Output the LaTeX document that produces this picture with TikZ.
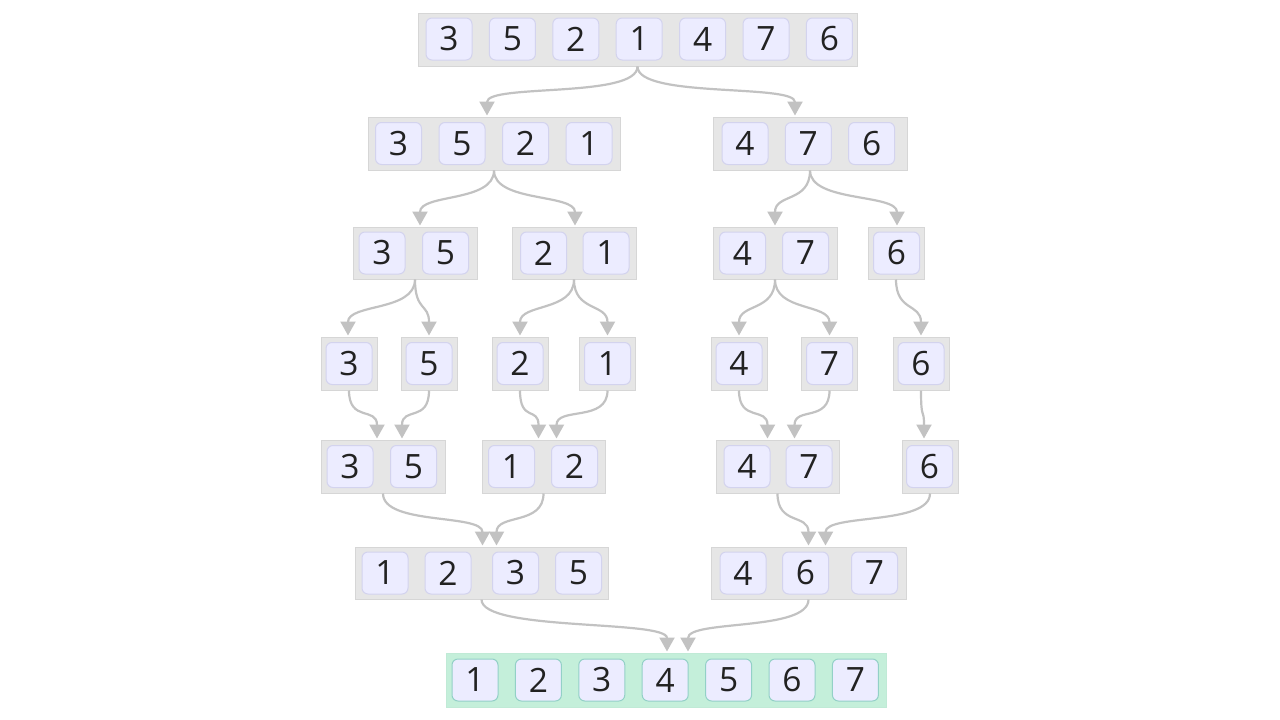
\documentclass[tikz,border=0pt]{standalone}
\usepackage{fontspec}
\setmainfont{Open Sans}
\usetikzlibrary{arrows.meta,calc}
\definecolor{boxfill}{HTML}{E6E6E6}
\definecolor{boxline}{HTML}{D6D6D6}
\definecolor{cellfill}{HTML}{ECECFF}
\definecolor{cellline}{HTML}{D3D3EE}
\definecolor{greenfill}{HTML}{C4EFDA}
\definecolor{greencell}{HTML}{93D0C7}
\definecolor{edgecol}{HTML}{C2C2C2}
\definecolor{txt}{HTML}{222222}
\newcommand\conn[3]{\draw[edge] (#1.south) .. controls +(0,32) and +(0,-32) .. ($(#2.north)+(#3,-1)$);}
\begin{document}
\begin{tikzpicture}[x=1pt,y=-1pt,
 grp/.style={draw=boxline, fill=boxfill, line width=1pt, minimum height=53pt, inner sep=0pt},
 ggrp/.style={grp, draw=greenfill!90!black!20!greenfill, fill=greenfill},
 cell/.style={draw=cellline, fill=cellfill, line width=1pt, rounded corners=6pt, minimum width=46pt, minimum height=42pt, inner sep=0pt, text=txt, font=\fontsize{33.5}{40}\selectfont},
 gcell/.style={cell, draw=greencell},
 edge/.style={draw=edgecol, line width=2.2pt, -{Triangle[length=14pt,width=15pt]}}
]
\useasboundingbox (0,0) rectangle (1280,720);
% Row 1
\node[grp, minimum width=439pt] (r1) at (637.5,39.5) {};
\foreach \v [count=\i from 0] in {3,5,2,1,4,7,6}
  \node[cell] (r1c\i) at ({449+63.4*\i},39) {\v};
% Row 2
\node[grp, minimum width=252pt] (r2l) at (494,143.5) {};
\foreach \v [count=\i from 0] in {3,5,2,1}
  \node[cell] (r2lc\i) at ({398.5+63.5*\i},143.5) {\v};
\node[grp, minimum width=194pt] (r2r) at (810,143.5) {};
\foreach \v [count=\i from 0] in {4,7,6}
  \node[cell] (r2rc\i) at ({745+63.3*\i},143.5) {\v};
% Row 3
\node[grp, minimum width=124pt, minimum height=52pt] (r3a) at (415,253) {};
\node[cell] (r3a0) at (382,253) {3};
\node[cell] (r3a1) at (445.5,253) {5};
\node[grp, minimum width=124pt, minimum height=52pt] (r3b) at (574,253) {};
\node[cell] (r3b0) at (543.5,253) {2};
\node[cell] (r3b1) at (606,253) {1};
\node[grp, minimum width=124pt, minimum height=52pt] (r3c) at (775,253) {};
\node[cell] (r3c0) at (742.5,253) {4};
\node[cell] (r3c1) at (805.5,253) {7};
\node[grp, minimum width=56pt, minimum height=52pt] (r3d) at (896,253) {};
\node[cell] (r3d0) at (896.5,253) {6};
% Row 4
\foreach \n/\x/\v in {r4a/349/3, r4b/429/5, r4c/520/2, r4d/607.5/1, r4e/739/4, r4f/829.5/7, r4g/921/6}{
  \node[grp, minimum width=56pt] (\n) at (\x,363.5) {};
  \node[cell] (\n0) at (\x,363.5) {\v};
}
% Row 5
\node[grp, minimum width=124pt] (r5a) at (383,466.5) {};
\node[cell] (r5a0) at (350,466.5) {3};
\node[cell] (r5a1) at (413.5,466.5) {5};
\node[grp, minimum width=123pt] (r5b) at (543.5,466.5) {};
\node[cell] (r5b0) at (511.5,466.5) {1};
\node[cell] (r5b1) at (574.5,466.5) {2};
\node[grp, minimum width=123pt] (r5c) at (777.5,466.5) {};
\node[cell] (r5c0) at (747,466.5) {4};
\node[cell] (r5c1) at (809,466.5) {7};
\node[grp, minimum width=56pt] (r5d) at (930,466.5) {};
\node[cell] (r5d0) at (929.5,466.5) {6};
% Row 6
\node[grp, minimum width=253pt, minimum height=52pt] (r6l) at (481.5,573) {};
\node[cell] (r6l0) at (385,573) {1};
\node[cell] (r6l1) at (448,573) {2};
\node[cell] (r6l2) at (515.5,573) {3};
\node[cell] (r6l3) at (578.5,573) {5};
\node[grp, minimum width=195pt, minimum height=52pt] (r6r) at (808.5,573) {};
\node[cell] (r6r0) at (743,573) {4};
\node[cell] (r6r1) at (805.5,573) {6};
\node[cell] (r6r2) at (874.5,573) {7};
% Row 7
\node[ggrp, minimum width=440pt, minimum height=54pt] (r7) at (666,680) {};
\foreach \v [count=\i from 0] in {1,2,3,4,5,6,7}
  \node[gcell] (r7c\i) at ({475+63.4*\i},680) {\v};
% Edges
\conn{r1}{r2l}{-7}
\conn{r1}{r2r}{-15}
\conn{r2l}{r3a}{5}
\conn{r2l}{r3b}{1}
\conn{r2r}{r3c}{0}
\conn{r2r}{r3d}{1}
\conn{r3a}{r4a}{-1}
\conn{r3a}{r4b}{0}
\conn{r3b}{r4c}{0}
\conn{r3b}{r4d}{0}
\conn{r3c}{r4e}{0}
\conn{r3c}{r4f}{0}
\conn{r3d}{r4g}{0}
\conn{r4a}{r5a}{-6}
\conn{r4b}{r5a}{19}
\conn{r4c}{r5b}{-5}
\conn{r4d}{r5b}{13}
\conn{r4e}{r5c}{-10}
\conn{r4f}{r5c}{17}
\conn{r4g}{r5d}{-6}
\conn{r5a}{r6l}{1}
\conn{r5b}{r6l}{15}
\conn{r5c}{r6r}{0}
\conn{r5d}{r6r}{17}
\conn{r6l}{r7}{1}
\conn{r6r}{r7}{22}
\end{tikzpicture}
\end{document}
